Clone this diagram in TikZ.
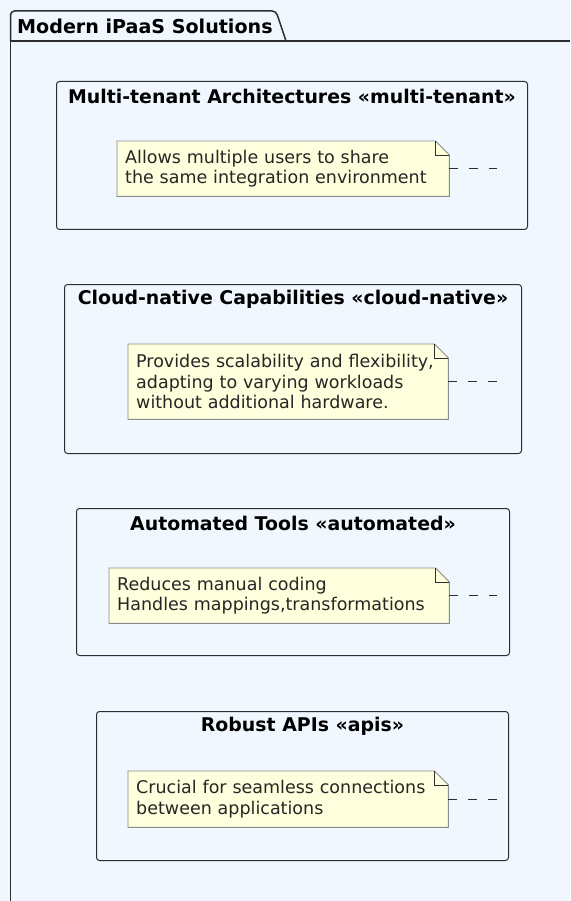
\documentclass[tikz,border=0pt]{standalone}
\usepackage{fontspec}
\setmainfont{DejaVu Sans}
\usetikzlibrary{positioning}

\definecolor{pagebg}{HTML}{F0F7FF}
\definecolor{notebg}{HTML}{FEFFDD}
\definecolor{boxline}{HTML}{2E2E2E}
\definecolor{noteline}{HTML}{8C8C8C}

% dog-eared outline round a note node
\newcommand\notecorner[1]{%
  \fill[pagebg] ([xshift=-14pt]#1.north east) -- (#1.north east) -- ([yshift=-14pt]#1.north east) -- cycle;
  \draw[noteline, line width=0.9pt] (#1.north west) -- ([xshift=-14pt]#1.north east)
    -- ([yshift=-14pt]#1.north east) -- (#1.south east) -- (#1.south west) -- cycle;
  \draw[boxline, line width=0.9pt] ([xshift=-14pt]#1.north east) |- ([yshift=-14pt]#1.north east);
}

\begin{document}
\begin{tikzpicture}[x=1pt, y=-1pt,
  area/.style={draw=boxline, line width=1pt, rounded corners=3pt,
    anchor=north west, inner sep=0pt},
  areatitle/.style={font=\bfseries\fontsize{18.9}{22}\selectfont, inner sep=0pt},
  note/.style={fill=notebg, anchor=north west, inner xsep=8pt, inner ysep=0pt,
    align=left, font=\fontsize{17.5}{20.5}\selectfont, text=black!85},
  link/.style={draw=boxline, line width=1pt, dash pattern=on 9pt off 11pt}]

  \useasboundingbox (0,0) rectangle (570,901);
  \fill[pagebg] (0,0) rectangle (570,901);

  % package frame with its tab
  \draw[boxline, line width=1.5pt] (10.5,901) -- (10.5,41) -- (570,41);
  \draw[boxline, line width=1.5pt, rounded corners=4pt]
    (10.5,41) -- (10.5,11) -- (276,11) -- (286,41);
  \node[areatitle, font=\bfseries\fontsize{19.1}{22}\selectfont, anchor=west] (ipaas) at (17,26)
    {Modern iPaaS Solutions};

  % multi-tenant
  \node[area, minimum width=471pt, minimum height=148pt] (multi) at (56,81) {};
  \node[areatitle] (multititle) at ([yshift=-15pt]multi.north)
    {Multi-tenant Architectures «multi-tenant»};
  \node[note, text width=316pt, minimum height=55pt] (multinote) at (117,141)
    {Allows multiple users to share\\the same integration environment};
  \notecorner{multinote}
  \coordinate (multitail) at ([xshift=48pt]multinote.east);
  \draw[link] (multinote.east) -- (multitail);

  % cloud-native
  \node[area, minimum width=457pt, minimum height=169pt] (cloud) at (64,284) {};
  \node[areatitle] (cloudtitle) at ([yshift=-15pt]cloud.north)
    {Cloud-native Capabilities «cloud-native»};
  \node[note, text width=304pt, minimum height=75pt] (cloudnote) at (128,344)
    {Provides scalability and flexibility,\\adapting to varying workloads\\without additional hardware.};
  \notecorner{cloudnote}
  \coordinate (cloudtail) at ([xshift=49pt]cloudnote.east);
  \draw[link] (cloudnote.east) -- (cloudtail);

  % automated tools
  \node[area, minimum width=433pt, minimum height=147pt] (auto) at (76,508) {};
  \node[areatitle] (autotitle) at ([yshift=-15pt]auto.north)
    {Automated Tools «automated»};
  \node[note, text width=324pt, minimum height=55pt] (autonote) at (109,568)
    {Reduces manual coding\\Handles mappings,transformations};
  \notecorner{autonote}
  \coordinate (autotail) at ([xshift=48pt]autonote.east);
  \draw[link] (autonote.east) -- (autotail);

  % robust apis
  \node[area, minimum width=412pt, minimum height=149pt] (apis) at (96,711) {};
  \node[areatitle] (apistitle) at ([yshift=-15pt]apis.north)
    {Robust APIs «apis»};
  \node[note, text width=304pt, minimum height=56pt] (apisnote) at (128,771)
    {Crucial for seamless connections\\between applications};
  \notecorner{apisnote}
  \coordinate (apistail) at ([xshift=49pt]apisnote.east);
  \draw[link] (apisnote.east) -- (apistail);
\end{tikzpicture}
\end{document}
